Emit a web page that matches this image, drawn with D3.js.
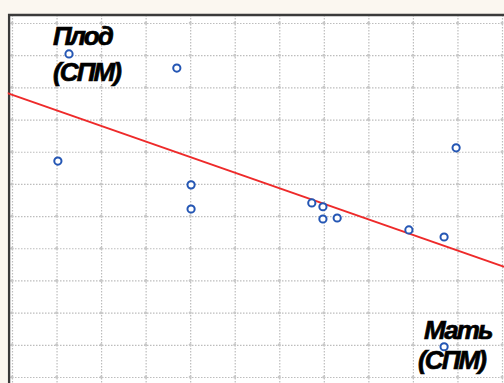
<!DOCTYPE html>
<html>
<head>
<meta charset="utf-8">
<script src="https://cdn.jsdelivr.net/npm/d3@7"></script>
<style>
  body { margin: 0; background: #fbf7f0; }
  svg { display: block; }
</style>
</head>
<body>
<svg id="chart" width="504" height="383"></svg>
<script>
// points (grid units)
var xVals = [1.28, 3.70, 1.03, 4.02, 4.02, 6.73, 6.98, 6.98, 7.30, 8.91, 9.70, 9.97, 9.70];
var yVals = [10.04, 9.60, 6.71, 5.97, 5.22, 5.41, 5.29, 4.91, 4.94, 4.57, 4.35, 7.12, 0.94];
var gridTicks = [0, 1, 2, 3, 4, 5, 6, 7, 8, 9, 10, 11];
// fitted line y = a + b*x
var fitIntercept = 8.77, fitSlope = -0.484;
var fitX = [-0.2, 11.2];
var labelNames = ["Плод", "Мать"];
var labelSubs = ["(СПМ)", "(СПМ)"];
var labelPoint = [0, 12]; // index of the point each label belongs to

var svg = d3.select("#chart");
var padL = 9, padT = 15;
var W = 504, H = 383;

var x = d3.scaleLinear().domain([0, 11]).range([12, 502]);
var y = d3.scaleLinear().domain([0, 11]).range([377, 23]);

svg.append("rect")
  .attr("x", padL).attr("y", padT)
  .attr("width", W - padL + 5).attr("height", H - padT + 5)
  .attr("fill", "#ffffff");

var grid = svg.append("g").attr("class", "grid");

grid.append("g")
  .attr("transform", "translate(0," + padT + ")")
  .call(d3.axisBottom(x).tickValues(gridTicks).tickSize(H - padT).tickFormat(""))
  .call(function(g) { g.select(".domain").remove(); });

grid.append("g")
  .attr("transform", "translate(" + padL + ",0)")
  .call(d3.axisRight(y).tickValues(gridTicks).tickSize(W - padL).tickFormat(""))
  .call(function(g) { g.select(".domain").remove(); });

grid.selectAll("line")
  .attr("stroke", "#bdbdbd")
  .attr("stroke-width", 1.2)
  .attr("stroke-dasharray", "1.5,1.5");

// small marks where the grid lines cross
var cross = [];
gridTicks.forEach(function(i) { gridTicks.forEach(function(j) { cross.push([i, j]); }); });
svg.append("g").selectAll("circle")
  .data(cross)
  .enter().append("circle")
  .attr("cx", function(d) { return x(d[0]); })
  .attr("cy", function(d) { return y(d[1]); })
  .attr("r", 1.5)
  .attr("fill", "#c8c8c8");

// frame, left and top only (rest is cut off)
svg.append("path")
  .attr("d", "M" + padL + "," + (H + 2) + "V" + padT + "H" + (W + 2))
  .attr("fill", "none")
  .attr("stroke", "#3a3a3a")
  .attr("stroke-width", 2.5);

svg.append("line")
  .attr("x1", x(fitX[0])).attr("y1", y(fitIntercept + fitSlope * fitX[0]))
  .attr("x2", x(fitX[1])).attr("y2", y(fitIntercept + fitSlope * fitX[1]))
  .attr("stroke", "#ee2a2a")
  .attr("stroke-width", 2);

svg.append("rect")
  .attr("x", 0).attr("y", 0).attr("width", padL - 1.25).attr("height", H)
  .attr("fill", "#fbf7f0");

svg.selectAll(".pt")
  .data(xVals)
  .enter().append("circle")
  .attr("class", "pt")
  .attr("cx", function(d) { return x(d); })
  .attr("cy", function(d, i) { return y(yVals[i]); })
  .attr("r", 3.6)
  .attr("fill", "#ffffff")
  .attr("stroke", "#2456b4")
  .attr("stroke-width", 2);

// offsets of the two text lines from their point: [nameDx, nameDy, subDx, subDy]
var offs = [[-16, -9, -16, 27], [-20, -8, -26, 22]];

var lab = svg.selectAll(".lab")
  .data(labelNames)
  .enter().append("g")
  .attr("class", "lab")
  .attr("font-family", "Liberation Sans, Arial, sans-serif")
  .attr("font-weight", "bold")
  .attr("font-style", "italic")
  .attr("font-size", 26)
  .attr("letter-spacing", -1.9)
  .attr("fill", "#000")
  .attr("stroke", "#000")
  .attr("stroke-width", 0.7);

lab.append("text")
  .attr("x", function(d, i) { return x(xVals[labelPoint[i]]) + offs[i][0]; })
  .attr("y", function(d, i) { return y(yVals[labelPoint[i]]) + offs[i][1]; })
  .text(function(d) { return d; });

lab.append("text")
  .attr("x", function(d, i) { return x(xVals[labelPoint[i]]) + offs[i][2]; })
  .attr("y", function(d, i) { return y(yVals[labelPoint[i]]) + offs[i][3]; })
  .text(function(d, i) { return labelSubs[i]; });
</script>
</body>
</html>
